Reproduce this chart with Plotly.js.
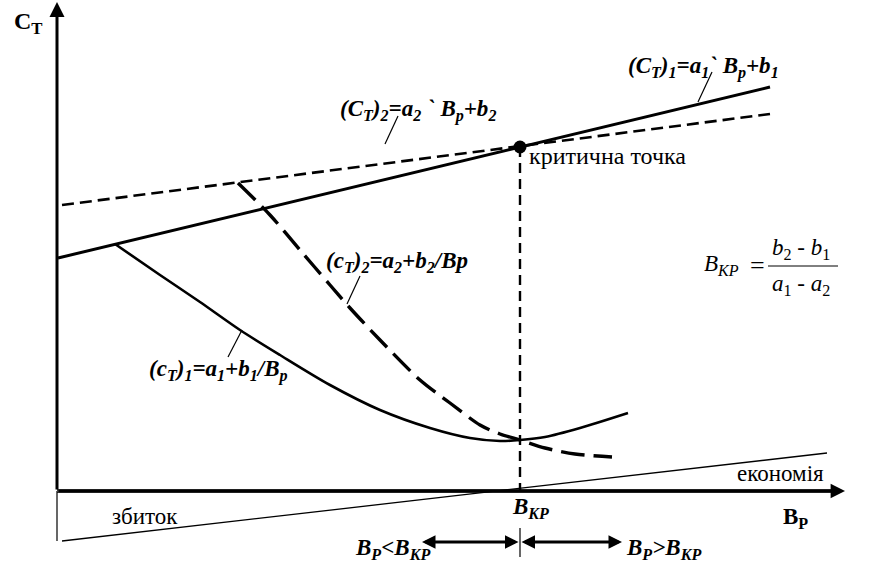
<!DOCTYPE html>
<html>
<head>
<meta charset="utf-8">
<script src="https://cdn.plot.ly/plotly-3.0.1.min.js"></script>
<style>
html,body{margin:0;padding:0;background:#fff;}
#chart{width:879px;height:569px;}
</style>
</head>
<body>
<div id="chart"></div>
<script>
// Coordinates (origin = axes crossing, units = pixels)
const line1X = [1, 713];           // (C_T)1 total cost line
const line1Y = [233, 404];
const line2X = [5, 713];           // (C_T)2 total cost line
const line2Y = [286, 377];
const critX = [463];               // critical point
const critY = [344];
const curve1X = [58, 103, 143, 183, 223, 273, 323, 373, 413, 443, 463, 488, 523, 571];   // (c_T)1 unit cost
const curve1Y = [247, 216, 189, 161, 136, 106, 81, 63, 53, 50, 51, 54, 63, 78];
const curve2X = [181, 213, 243, 273, 293, 323, 363, 393, 423, 443, 463, 488, 518, 555]; // (c_T)2 unit cost
const curve2Y = [308, 276, 241, 206, 183, 151, 111, 88, 66, 57, 51, 43, 37, 34];
const gainX = [5, 770];            // loss / saving line
const gainY = [-50, 38];
const critVX = [463, 463];
const critVY = [344, 0];
const tickVX = [463, 463];
const tickVY = [-37, -66];
const yAxisLowX = [0, 0];
const yAxisLowY = [0, -50];
const leaders = [
  {x: [655, 641], y: [419, 389]},
  {x: [341, 328], y: [375, 347]},
  {x: [303, 290], y: [215, 187]},
  {x: [185, 171], y: [161, 134]}
];

const F = "Times New Roman, Liberation Serif, serif";
const traces = [];
function ln(x, y, w, dash, shape) {
  traces.push({x: x, y: y, type: 'scatter', mode: 'lines', hoverinfo: 'skip',
    line: {color: '#000', width: w, dash: dash || 'solid', shape: shape || 'linear', smoothing: 0.8}});
}
ln(yAxisLowX, yAxisLowY, 1.2);
ln(gainX, gainY, 1.3);
ln(line2X, line2Y, 2.6, '12px,6px');
ln(line1X, line1Y, 3);
ln(curve1X, curve1Y, 2.6, 'solid', 'spline');
ln(curve2X, curve2Y, 3.4, '24px,9px', 'spline');
ln(critVX, critVY, 2.4, '10px,6px');
ln(tickVX, tickVY, 1.2);
leaders.forEach(l => ln(l.x, l.y, 1.2));
traces.push({x: critX, y: critY, type: 'scatter', mode: 'markers', hoverinfo: 'skip',
  marker: {color: '#000', size: 13}});

function txt(x, y, t, size, xa) {
  return {x: x, y: y, xref: 'x', yref: 'y', text: t, showarrow: false,
    xanchor: xa || 'center', yanchor: 'middle', font: {family: F, size: size || 22, color: '#000'}};
}
function arrow(x, y, ax, ay, side, w, sz) {
  return {x: x, y: y, ax: ax, ay: ay, xref: 'x', yref: 'y', axref: 'x', ayref: 'y', text: '',
    showarrow: true, arrowhead: 2, arrowsize: sz || 1, arrowwidth: w || 2, arrowcolor: '#000',
    arrowside: side || 'end', startarrowhead: 2, startarrowsize: sz || 1, standoff: 0, startstandoff: 0};
}

const annotations = [
  arrow(0, 489, 0, 0, 'end', 3, 1),
  arrow(788, 0, 0, 0, 'end', 3.2, 0.9),
  arrow(365, -51, 463, -51, 'end+start', 3, 0.9),
  arrow(565, -51, 463, -51, 'end+start', 3, 0.9),
  txt(-29, 468, '<b>C<sub>T</sub></b>', 24),
  txt(646, 424, '<b><i>(C<sub>T</sub>)<sub>1</sub>=a<sub>1</sub>` B<sub>p</sub>+b<sub>1</sub></i></b>', 23),
  txt(361, 381, '<b><i>(C<sub>T</sub>)<sub>2</sub>=a<sub>2</sub> ` B<sub>p</sub>+b<sub>2</sub></i></b>', 23),
  txt(470, 335, 'критична точка', 24, 'left'),
  txt(340, 229, '<b><i>(c<sub>T</sub>)<sub>2</sub>=a<sub>2</sub>+b<sub>2</sub>/Bp</i></b>', 23),
  txt(161, 121, '<b><i>(c<sub>T</sub>)<sub>1</sub>=a<sub>1</sub>+b<sub>1</sub>/B<sub>p</sub></i></b>', 23),
  txt(664, 226, '<i>B<sub>KP</sub></i>', 23),
  txt(700, 226, '=', 26),
  txt(744, 242, '<i>b</i><sub>2</sub> - <i>b</i><sub>1</sub>', 23),
  txt(744, 206, '<i>a</i><sub>1</sub> - <i>a</i><sub>2</sub>', 23),
  txt(723, 18, 'економія', 23),
  txt(88, -25, 'збиток', 23),
  txt(473, -17, '<b><i>B<sub>KP</sub></i></b>', 23),
  txt(738, -27, '<b>B<sub>P</sub></b>', 23),
  txt(335, -58, '<b><i>B<sub>P</sub>&lt;B<sub>KP</sub></i></b>', 23),
  txt(606, -58, '<b><i>B<sub>P</sub>&gt;B<sub>KP</sub></i></b>', 23)
];

const shapes = [
  {type: 'line', xref: 'x', yref: 'y', x0: 711, x1: 781, y0: 225, y1: 225, line: {color: '#000', width: 1}},
  {type: 'line', xref: 'x', yref: 'y', x0: 0, x1: 780, y0: 0, y1: 0, line: {color: '#000', width: 3.5}},
  {type: 'line', xref: 'x', yref: 'y', x0: 0, x1: 780, y0: 0, y1: 0, line: {color: '#aaa', width: 0.8}}
];

const layout = {
  width: 879, height: 569,
  margin: {l: 0, r: 0, t: 0, b: 0},
  paper_bgcolor: '#fff', plot_bgcolor: '#fff',
  showlegend: false,
  font: {family: F},
  xaxis: {range: [-57, 822], visible: false, fixedrange: true},
  yaxis: {range: [-78, 491], visible: false, fixedrange: true},
  annotations: annotations,
  shapes: shapes
};
Plotly.newPlot('chart', traces, layout, {staticPlot: true, displayModeBar: false});
</script>
</body>
</html>
